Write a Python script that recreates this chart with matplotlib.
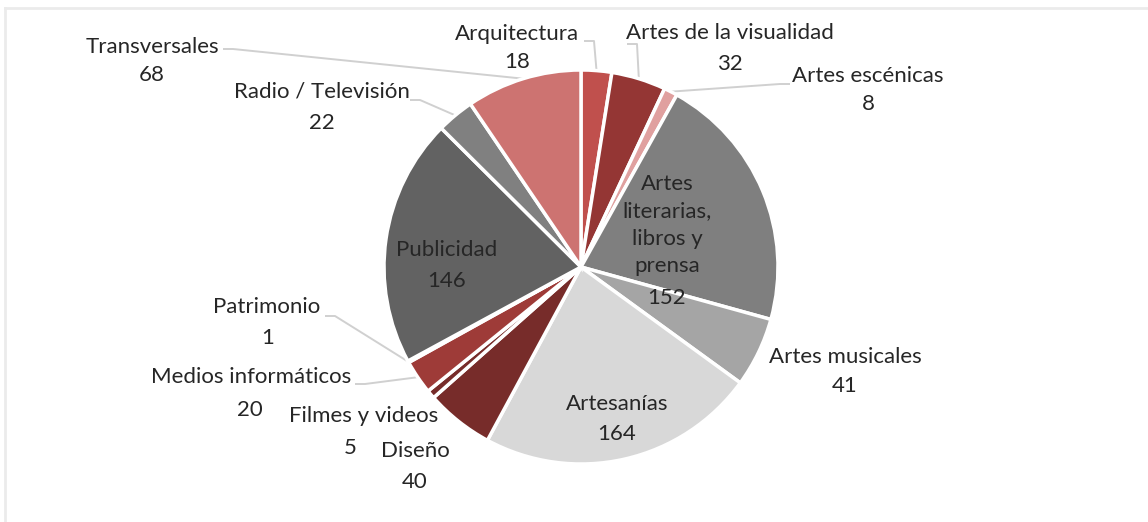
import numpy as np
import matplotlib.pyplot as plt
from matplotlib.lines import Line2D

plt.rcParams['font.family'] = ['Lato', 'DejaVu Sans']

# datos
categorias = ['Arquitectura', 'Artes de la visualidad', 'Artes escénicas',
              'Artes\nliterarias,\nlibros y\nprensa', 'Artes musicales', 'Artesanías',
              'Diseño', 'Filmes y videos', 'Medios informáticos', 'Patrimonio',
              'Publicidad', 'Radio / Televisión', 'Transversales']
valores = [18, 32, 8, 152, 41, 164, 40, 5, 20, 1, 146, 22, 68]
colores = ['#C0504D', '#943634', '#E0A09F', '#7F7F7F', '#A5A5A5', '#D8D8D8',
           '#772C2A', '#772C2A', '#9E3B38', '#8B3533', '#626262', '#808080', '#CD7371']

W, H = 1148, 522
cx, cy, R = 581, H - 267, 197

# posiciones de etiquetas en pixeles desde arriba:
# (x nombre, y nombre, x valor, y valor, anclaje de la linea guia o None)
layout = [
    (517, 34, 517, 62, (584, 41)),
    (730, 33, 730, 64, (627, 44)),
    (868, 76, 868, 104, (790, 84)),
    (667, 225, 667, 298, None),
    (845, 357, 845, 386, None),
    (617, 404, 617, 434, None),
    (415, 451, 415, 482, None),
    (364, 416, 350, 448, None),
    (251, 377, 250, 410, (355, 384)),
    (267, 307, 268, 338, (325, 316)),
    (447, 250, 447, 281, None),
    (322, 92, 322, 123, (410, 100)),
    (152, 47, 152, 75, (223, 49)),
]

fig = plt.figure(figsize=(W / 100, H / 100), dpi=100)
ax = fig.add_axes([0, 0, 1, 1])

wedges, _ = ax.pie(valores, colors=colores, startangle=90, counterclock=False,
                   center=(cx, cy), radius=R,
                   wedgeprops=dict(edgecolor='white', linewidth=2.5))
ax.set_xlim(0, W)
ax.set_ylim(0, H)
ax.axis('off')

for w, cat, val, (nx, ny, vx, vy, anc) in zip(wedges, categorias, valores, layout):
    ax.text(nx, H - ny, cat, ha='center', va='center', fontsize=16,
            color='#262626', linespacing=1.45)
    ax.text(vx, H - vy, str(val), ha='center', va='center', fontsize=16,
            color='#262626')
    if anc is not None:
        ang = np.deg2rad((w.theta1 + w.theta2) / 2)
        ex, ey = cx + R * np.cos(ang), cy + R * np.sin(ang)
        px, py = anc[0], H - anc[1]
        # pequeño tramo horizontal antes de ir al sector
        paso = 10 if ex > px else -10
        ax.plot([px, px + paso, ex], [py, py, ey], color='#D0D0D0', lw=1.4,
                solid_capstyle='butt', zorder=0)

# borde del area del grafico
fig.add_artist(Line2D([5 / W, 1], [1 - 7.5 / H, 1 - 7.5 / H], color='#EBEBEB', lw=2))
fig.add_artist(Line2D([5 / W, 5 / W], [0, 1 - 7.5 / H], color='#EBEBEB', lw=2))

fig.savefig('out.png', dpi=100)
